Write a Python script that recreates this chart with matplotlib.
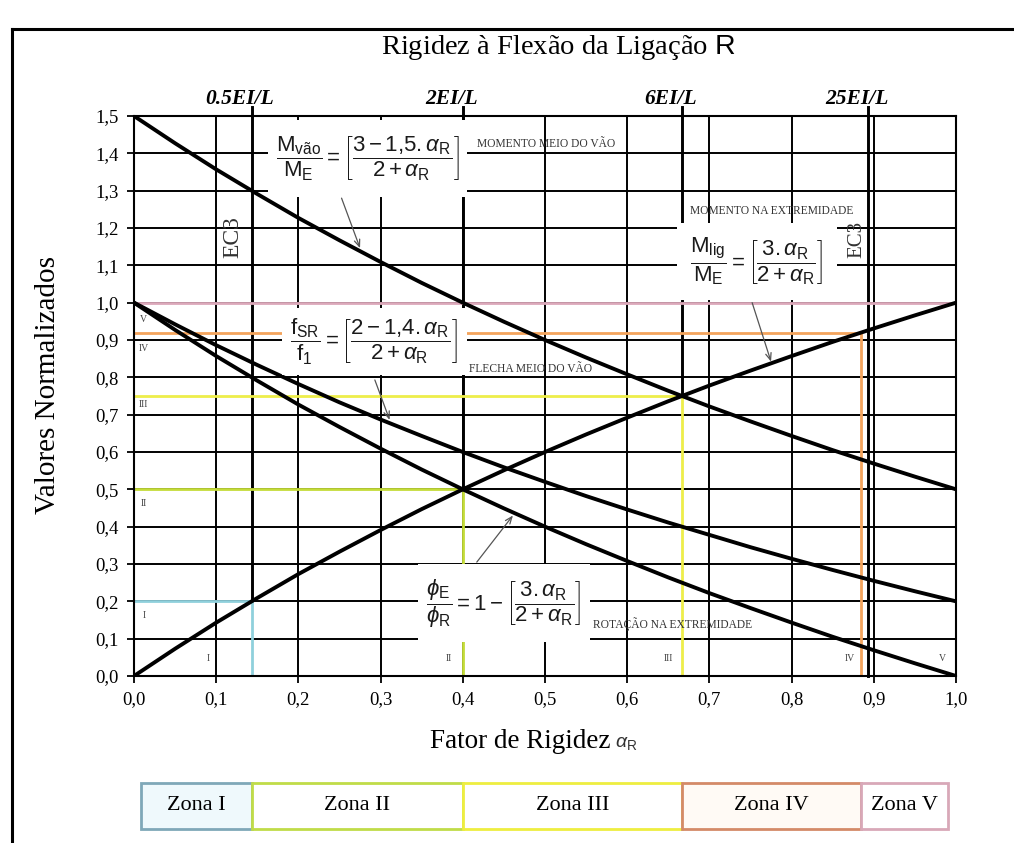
import matplotlib
matplotlib.use('Agg')
import matplotlib.pyplot as plt
from matplotlib.patches import Rectangle
from matplotlib.lines import Line2D

plt.rcParams['font.family'] = ['Liberation Serif', 'DejaVu Serif']
plt.rcParams['mathtext.fontset'] = 'custom'
plt.rcParams['mathtext.rm'] = 'Liberation Sans'
plt.rcParams['mathtext.it'] = 'Liberation Sans:italic'
plt.rcParams['mathtext.bf'] = 'Liberation Sans:bold'

# ---- data -------------------------------------------------------------
alpha = [0.00, 0.05, 0.10, 0.15, 0.20, 0.25, 0.30, 0.35, 0.40, 0.45, 0.50,
         0.55, 0.60, 0.65, 0.70, 0.75, 0.80, 0.85, 0.90, 0.95, 1.00]
# mid-span moment
m_vao = [1.500, 1.427, 1.357, 1.291, 1.227, 1.167, 1.109, 1.053, 1.000, 0.949, 0.900,
         0.853, 0.808, 0.764, 0.722, 0.682, 0.643, 0.605, 0.569, 0.534, 0.500]
# mid-span deflection
f_sr = [1.000, 0.942, 0.886, 0.833, 0.782, 0.733, 0.687, 0.643, 0.600, 0.559, 0.520,
        0.482, 0.446, 0.411, 0.378, 0.345, 0.314, 0.284, 0.255, 0.227, 0.200]
# end moment
m_lig = [0.000, 0.073, 0.143, 0.209, 0.273, 0.333, 0.391, 0.447, 0.500, 0.551, 0.600,
         0.647, 0.692, 0.736, 0.778, 0.818, 0.857, 0.895, 0.931, 0.966, 1.000]
# end rotation
phi_e = [1.000, 0.927, 0.857, 0.791, 0.727, 0.667, 0.609, 0.553, 0.500, 0.449, 0.400,
         0.353, 0.308, 0.264, 0.222, 0.182, 0.143, 0.105, 0.069, 0.034, 0.000]

zone_limits = [0.143, 0.400, 0.667, 0.885, 1.000]
zone_levels = [0.20, 0.50, 0.75, 0.92, 1.00]
zone_roman = ['I', 'II', 'III', 'IV', 'V']
zone_names = ['Zona I', 'Zona II', 'Zona III', 'Zona IV', 'Zona V']
zone_colors = ['#8fd0dc', '#c4dc38', '#eeee4a', '#f4a45c', '#dca8ba']
zone_edges = ['#7fa8b8', '#c0dc48', '#eeee40', '#d48a68', '#d8a8b8']
zone_fills = ['#eff9fc', '#ffffff', '#ffffff', '#fffaf5', '#ffffff']

stiff_pos = [0.143, 0.400, 0.667, 0.893]
stiff_labels = ['0.5EI/L', '2EI/L', '6EI/L', '25EI/L']

x_ticks = [0.0, 0.1, 0.2, 0.3, 0.4, 0.5, 0.6, 0.7, 0.8, 0.9, 1.0]
x_ticklabels = ['0,0', '0,1', '0,2', '0,3', '0,4', '0,5', '0,6', '0,7', '0,8', '0,9', '1,0']
y_ticks = [0.0, 0.1, 0.2, 0.3, 0.4, 0.5, 0.6, 0.7, 0.8, 0.9, 1.0, 1.1, 1.2, 1.3, 1.4, 1.5]
y_ticklabels = ['0,0', '0,1', '0,2', '0,3', '0,4', '0,5', '0,6', '0,7', '0,8', '0,9',
                '1,0', '1,1', '1,2', '1,3', '1,4', '1,5']

# ---- figure -----------------------------------------------------------
W, H = 1014, 843
fig = plt.figure(figsize=(W / 100, H / 100), dpi=100)
ax = fig.add_axes([134 / W, 1 - 676 / H, (956 - 134) / W, (676 - 116) / H])
ax.set_xlim(0, 1)
ax.set_ylim(0, 1.5)

# grid
for xv in x_ticks:
    ax.plot([xv, xv], [0, 1.5], color='black', lw=1.4, zorder=1)
for yv in y_ticks:
    ax.plot([0, 1], [yv, yv], color='black', lw=1.4, zorder=1)

# stiffness reference lines (extend above the frame)
for xv, lev in zip(stiff_pos[:3], zone_levels[:3]):
    ax.plot([xv, xv], [lev, 1.525], color='black', lw=2.1, zorder=2, clip_on=False)
ax.plot([stiff_pos[3]] * 2, [0, 1.525], color='black', lw=2.1, zorder=2, clip_on=False)
for xv, lab in zip(stiff_pos, stiff_labels):
    ax.text(xv - 0.014, 1.52, lab, ha='center', va='bottom', fontsize=15.5,
            fontstyle='italic', fontweight='bold')

# zone boundaries
for xl, lev, c in zip(zone_limits, zone_levels, zone_colors):
    ax.plot([0, xl], [lev, lev], color=c, lw=2.0, zorder=3, solid_capstyle='butt')
    ax.plot([xl, xl], [0, lev], color=c, lw=2.0, zorder=3, solid_capstyle='butt')

# curves
for ys in (m_vao, f_sr, m_lig, phi_e):
    ax.plot(alpha, ys, color='black', lw=2.8, zorder=4, solid_capstyle='round')

# zone roman numerals
left_y = [0.163, 0.463, 0.726, 0.878, 0.955]
bottom_x = [0.090, 0.383, 0.650, 0.871, 0.984]
for r, ly, bx in zip(zone_roman, left_y, bottom_x):
    ax.text(0.012, ly, r, fontsize=7, color='#444444', ha='center', va='center', zorder=5)
    ax.text(bx, 0.046, r, fontsize=7, color='#444444', ha='center', va='center', zorder=5)

# formula panels
panels = [
    ((0.163, 1.283), 0.242, 0.205,
     r'$\dfrac{\mathrm{M_{vão}}}{\mathrm{M_E}}=\left[\dfrac{3-1{,}5{.}\alpha_\mathrm{R}}{2+\alpha_\mathrm{R}}\right]$'),
    ((0.180, 0.805), 0.225, 0.180,
     r'$\dfrac{\mathrm{f_{SR}}}{\mathrm{f_1}}=\left[\dfrac{2-1{,}4{.}\alpha_\mathrm{R}}{2+\alpha_\mathrm{R}}\right]$'),
    ((0.661, 1.007), 0.194, 0.206,
     r'$\dfrac{\mathrm{M_{lig}}}{\mathrm{M_E}}=\left[\dfrac{3{.}\alpha_\mathrm{R}}{2+\alpha_\mathrm{R}}\right]$'),
    ((0.345, 0.090), 0.210, 0.210,
     r'$\dfrac{\phi_\mathrm{E}}{\phi_\mathrm{R}}=1-\left[\dfrac{3{.}\alpha_\mathrm{R}}{2+\alpha_\mathrm{R}}\right]$'),
]
for (x0, y0), w, h, tex in panels:
    ax.add_patch(Rectangle((x0, y0), w, h, facecolor='white', edgecolor='none', zorder=5))
    ax.text(x0 + w / 2, y0 + h / 2, tex, ha='center', va='center', fontsize=16,
            color='#1a1a1a', zorder=6)

notes = [(0.417, 1.425, 'MOMENTO MEIO DO VÃO'),
         (0.407, 0.822, 'FLECHA MEIO DO VÃO'),
         (0.676, 1.245, 'MOMENTO NA EXTREMIDADE'),
         (0.558, 0.140, 'ROTAÇÃO NA EXTREMIDADE')]
for nx, ny, s in notes:
    ax.text(nx, ny, s, fontsize=8.3, color='#333333', ha='left', va='center', zorder=6)

for ex, ey, fs in [(0.12, 1.175, 17), (0.879, 1.17, 15)]:
    ax.text(ex, ey, 'EC3', rotation=90, fontsize=fs, color='#333333',
            ha='center', va='center', zorder=6)

# pointers from formulas to curves
arrows = [((0.2525, 1.280), (0.275, 1.146)),
          ((0.293, 0.793), (0.311, 0.686)),
          ((0.752, 1.000), (0.775, 0.842)),
          ((0.417, 0.305), (0.461, 0.430))]
for start, tip in arrows:
    ax.annotate('', xy=tip, xytext=start, zorder=7,
                arrowprops=dict(arrowstyle='->,head_length=0.5,head_width=0.2',
                                color='#555555', lw=0.9, shrinkA=0, shrinkB=0))

# frame and ticks
for side in ('top', 'right', 'left', 'bottom'):
    ax.spines[side].set_linewidth(1.5)
    ax.spines[side].set_zorder(3.5)
ax.set_xticks(x_ticks)
ax.set_xticklabels(x_ticklabels, fontsize=13.5)
ax.set_yticks(y_ticks)
ax.set_yticklabels(y_ticklabels, fontsize=13.5)
ax.tick_params(direction='out', length=5, width=1.3, pad=6)

fig.text(0.551, 1 - 47 / H, r'Rigidez à Flexão da Ligação $\mathrm{R}$', fontsize=20.5,
         ha='center', va='center')
fig.text(0.047, 1 - 385 / H, 'Valores Normalizados', fontsize=21, rotation=90,
         ha='center', va='center')
fig.text(611 / W, 1 - 741 / H, 'Fator de Rigidez', fontsize=19.5,
         ha='right', va='center')
fig.text(615 / W, 1 - 744 / H, r'$\alpha_\mathrm{R}$', fontsize=14,
         ha='left', va='center', color='#333333')

# zone legend bar
axb = fig.add_axes([134 / W, 1 - 831 / H, (956 - 134) / W, 50 / H])
axb.set_xlim(0, 1)
axb.set_ylim(0, 1)
axb.axis('off')
bounds = [0.0085] + zone_limits[:-1] + [0.990]
for i in range(5):
    x0, x1 = bounds[i], bounds[i + 1]
    axb.add_patch(Rectangle((x0, 0.04), x1 - x0, 0.92, facecolor=zone_fills[i],
                            edgecolor=zone_edges[i], lw=2.0))
    axb.text((x0 + x1) / 2, 0.5, zone_names[i], ha='center', va='center', fontsize=16)

# outer frame
fig.add_artist(Line2D([12 / W, 1], [1 - 29 / H] * 2, color='black', lw=2.2))
fig.add_artist(Line2D([12 / W] * 2, [0, 1 - 29 / H], color='black', lw=2.2))

fig.savefig('out.png', dpi=100)
